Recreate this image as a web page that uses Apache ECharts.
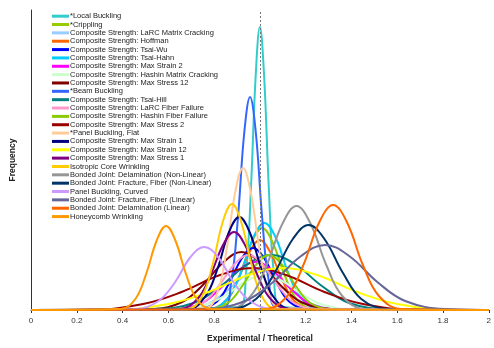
<!DOCTYPE html>
<html>
<head>
<meta charset="utf-8">
<script src="https://cdn.jsdelivr.net/npm/echarts@6/dist/echarts.min.js"></script>
<style>
  html, body { margin: 0; padding: 0; background: #fff; }
  #chart { width: 494px; height: 348px; }
</style>
</head>
<body>
<div id="chart"></div>
<script>
// x ticks
const xTicks = [0, 0.2, 0.4, 0.6, 0.8, 1, 1.2, 1.4, 1.6, 1.8, 2]

// legend names (same order as the reference)
const names = [
  '*Local Buckling',
  '*Crippling',
  'Composite Strength: LaRC Matrix Cracking',
  'Composite Strength: Hoffman',
  'Composite Strength: Tsai-Wu',
  'Composite Strength: Tsai-Hahn',
  'Composite Strength: Max Strain 2',
  'Composite Strength: Hashin Matrix Cracking',
  'Composite Strength: Max Stress 12',
  '*Beam Buckling',
  'Composite Strength: Tsai-Hill',
  'Composite Strength: LaRC Fiber Failure',
  'Composite Strength: Hashin Fiber Failure',
  'Composite Strength: Max Stress 2',
  '*Panel Buckling, Flat',
  'Composite Strength: Max Strain 1',
  'Composite Strength: Max Strain 12',
  'Composite Strength: Max Stress 1',
  'Isotropic Core Wrinkling',
  'Bonded Joint: Delamination (Non-Linear)',
  'Bonded Joint: Fracture, Fiber (Non-Linear)',
  'Panel Buckling, Curved',
  'Bonded Joint: Fracture, Fiber (Linear)',
  'Bonded Joint: Delamination (Linear)',
  'Honeycomb Wrinkling'
]

// x positions and frequency
const localBucklingX = [0.91, 0.94, 0.961, 0.982, 1.0, 1.018, 1.039, 1.06, 1.09]
const localBucklingY = [3, 38, 122, 236, 283, 236, 122, 38, 3]
const cripplingX = [0.785, 0.86, 0.913, 0.965, 1.01, 1.055, 1.108, 1.16, 1.235]
const cripplingY = [1, 11, 35, 68, 82, 68, 35, 11, 1]
const larcMatrixX = [0.64, 0.76, 0.844, 0.928, 1.0, 1.072, 1.156, 1.24, 1.36]
const larcMatrixY = [0, 5, 17, 33, 40, 33, 17, 5, 0]
const hoffmanX = [0.775, 0.85, 0.903, 0.955, 1.0, 1.045, 1.098, 1.15, 1.225]
const hoffmanY = [1, 9, 30, 58, 70, 58, 30, 9, 1]
const tsaiWuX = [0.73, 0.81, 0.866, 0.922, 0.97, 1.018, 1.074, 1.13, 1.21]
const tsaiWuY = [1, 8, 27, 52, 62, 52, 27, 8, 1]
const tsaiHahnX = [0.78, 0.86, 0.916, 0.972, 1.02, 1.068, 1.124, 1.18, 1.26]
const tsaiHahnY = [1, 12, 37, 73, 87, 73, 37, 12, 1]
const maxStrain2X = [0.62, 0.74, 0.824, 0.908, 0.98, 1.052, 1.136, 1.22, 1.34]
const maxStrain2Y = [1, 6, 21, 40, 48, 40, 21, 6, 1]
const hashinMatrixX = [0.63, 0.76, 0.851, 0.942, 1.02, 1.098, 1.189, 1.28, 1.41]
const hashinMatrixY = [0, 5, 15, 29, 35, 29, 15, 5, 0]
const maxStress12X = [0.53, 0.66, 0.751, 0.842, 0.92, 0.998, 1.089, 1.18, 1.31]
const maxStress12Y = [1, 8, 25, 48, 58, 48, 25, 8, 1]
const beamBucklingX = [0.834, 0.875, 0.904, 0.932, 0.957, 0.982, 1.01, 1.039, 1.08]
const beamBucklingY = [2, 29, 92, 178, 213, 178, 92, 29, 2]
const tsaiHillX = [0.54, 0.71, 0.829, 0.948, 1.05, 1.152, 1.271, 1.39, 1.56]
const tsaiHillY = [1, 7, 24, 46, 55, 46, 24, 7, 1]
const larcFiberX = [0.65, 0.75, 0.82, 0.89, 0.95, 1.01, 1.08, 1.15, 1.25]
const larcFiberY = [1, 7, 24, 46, 55, 46, 24, 7, 1]
const hashinFiberX = [0.77, 0.86, 0.923, 0.986, 1.04, 1.094, 1.157, 1.22, 1.31]
const hashinFiberY = [1, 7, 24, 46, 55, 46, 24, 7, 1]
const maxStress2X = [0.25, 0.49, 0.658, 0.826, 0.97, 1.114, 1.282, 1.45, 1.69]
const maxStress2Y = [0, 6, 18, 35, 42, 35, 18, 6, 0]
const panelFlatX = [0.761, 0.816, 0.855, 0.893, 0.926, 0.959, 0.998, 1.036, 1.091]
const panelFlatY = [2, 19, 61, 119, 142, 119, 61, 19, 2]
const maxStrain1X = [0.685, 0.76, 0.813, 0.865, 0.91, 0.955, 1.008, 1.06, 1.135]
const maxStrain1Y = [1, 13, 40, 78, 93, 78, 40, 13, 1]
const maxStrain12X = [0.35, 0.6, 0.775, 0.95, 1.1, 1.25, 1.425, 1.6, 1.85]
const maxStrain12Y = [0, 6, 18, 35, 42, 35, 18, 6, 0]
const maxStress1X = [0.647, 0.727, 0.783, 0.839, 0.887, 0.935, 0.991, 1.047, 1.127]
const maxStress1Y = [1, 11, 34, 65, 78, 65, 34, 11, 1]
const isoCoreX = [0.683, 0.748, 0.794, 0.839, 0.878, 0.917, 0.963, 1.008, 1.073]
const isoCoreY = [1, 14, 46, 89, 106, 89, 46, 14, 1]
const bjDelamNLX = [0.86, 0.96, 1.03, 1.1, 1.16, 1.22, 1.29, 1.36, 1.46]
const bjDelamNLY = [1, 14, 45, 87, 104, 87, 45, 14, 1]
const bjFractNLX = [0.868, 0.983, 1.064, 1.144, 1.213, 1.282, 1.363, 1.443, 1.558]
const bjFractNLY = [1, 11, 37, 71, 85, 71, 37, 11, 1]
const panelCurvedX = [0.457, 0.557, 0.627, 0.697, 0.757, 0.817, 0.887, 0.957, 1.057]
const panelCurvedY = [1, 9, 27, 53, 63, 53, 27, 9, 1]
const bjFractLX = [0.76, 0.935, 1.058, 1.18, 1.285, 1.39, 1.513, 1.635, 1.81]
const bjFractLY = [1, 9, 28, 54, 65, 54, 28, 9, 1]
const bjDelamLX = [1.02, 1.12, 1.19, 1.26, 1.32, 1.38, 1.45, 1.52, 1.62]
const bjDelamLY = [1, 14, 45, 88, 105, 88, 45, 14, 1]
const honeycombX = [0.39, 0.456, 0.503, 0.55, 0.59, 0.63, 0.677, 0.724, 0.79]
const honeycombY = [1, 11, 36, 70, 84, 70, 36, 11, 1]

const curvesX = [localBucklingX, cripplingX, larcMatrixX, hoffmanX, tsaiWuX, tsaiHahnX, maxStrain2X,
  hashinMatrixX, maxStress12X, beamBucklingX, tsaiHillX, larcFiberX, hashinFiberX, maxStress2X,
  panelFlatX, maxStrain1X, maxStrain12X, maxStress1X, isoCoreX, bjDelamNLX, bjFractNLX,
  panelCurvedX, bjFractLX, bjDelamLX, honeycombX]
const curvesY = [localBucklingY, cripplingY, larcMatrixY, hoffmanY, tsaiWuY, tsaiHahnY, maxStrain2Y,
  hashinMatrixY, maxStress12Y, beamBucklingY, tsaiHillY, larcFiberY, hashinFiberY, maxStress2Y,
  panelFlatY, maxStrain1Y, maxStrain12Y, maxStress1Y, isoCoreY, bjDelamNLY, bjFractNLY,
  panelCurvedY, bjFractLY, bjDelamLY, honeycombY]

const colors = ['#33CCCC', '#99CC00', '#99CCFF', '#FF6600', '#0000FF', '#00CCFF', '#FF00FF',
  '#CCFFCC', '#800000', '#3366FF', '#008080', '#FF99CC', '#88CC00', '#990000',
  '#FFCC99', '#000080', '#FFFF00', '#800080', '#FFCC00', '#969696', '#003366',
  '#CC99FF', '#666699', '#FF6600', '#FF9900']

let series = []
for (let i = 0; i < names.length; i++) {
  // curve sits on the baseline across the whole range
  let pts = [[0, 0]]
  for (let j = 0; j < curvesX[i].length; j++) {
    pts.push([curvesX[i][j], curvesY[i][j]])
  }
  pts.push([2, 0])
  let s = {
    name: names[i],
    type: 'line',
    data: pts,
    smooth: 0.4,
    showSymbol: false,
    lineStyle: { width: 2, color: colors[i] },
    itemStyle: { color: colors[i] }
  }
  if (i === 0) {
    s.markLine = {
      silent: true,
      symbol: 'none',
      label: { show: false },
      lineStyle: { color: '#777', type: [2, 2], width: 1 },
      data: [{ xAxis: 1 }]
    }
  }
  series.push(s)
}

let myChart = echarts.init(document.getElementById('chart'))
let option = {
  animation: false,
  color: colors,
  grid: { left: 31, right: 3, top: 10, bottom: 38 },
  legend: {
    orient: 'vertical',
    left: 52,
    top: 12,
    padding: 0,
    icon: 'rect',
    itemWidth: 17,
    itemHeight: 3,
    itemGap: 0,
    textStyle: {
      fontFamily: 'Liberation Sans, Arial',
      fontSize: 7.5,
      lineHeight: 8.35,
      color: '#222',
      padding: [0, 0, 0, -4]
    },
    data: names
  },
  xAxis: {
    type: 'value',
    min: 0,
    max: 2,
    interval: 0.2,
    name: 'Experimental / Theoretical',
    nameLocation: 'middle',
    nameGap: 24,
    nameTextStyle: { fontFamily: 'Liberation Sans, Arial', fontSize: 8.5, fontWeight: 'bold', color: '#222' },
    axisLine: { lineStyle: { color: '#333', width: 1 } },
    axisTick: { length: 3, lineStyle: { color: '#333' } },
    axisLabel: {
      fontFamily: 'Liberation Sans, Arial',
      fontSize: 8,
      color: '#333',
      margin: 7,
      formatter: function (v) { return xTicks.indexOf(Math.round(v * 10) / 10) >= 0 ? String(Math.round(v * 10) / 10) : '' }
    },
    splitLine: { show: false }
  },
  yAxis: {
    type: 'value',
    min: 0,
    max: 300,
    name: 'Frequency',
    nameLocation: 'middle',
    nameRotate: 90,
    nameGap: 14,
    nameTextStyle: { fontFamily: 'Liberation Sans, Arial', fontSize: 8.5, fontWeight: 'bold', color: '#222' },
    axisLine: { show: true, lineStyle: { color: '#333', width: 1 } },
    axisTick: { show: false },
    axisLabel: { show: false },
    splitLine: { show: false }
  },
  series: series
}
myChart.setOption(option)
</script>
</body>
</html>
